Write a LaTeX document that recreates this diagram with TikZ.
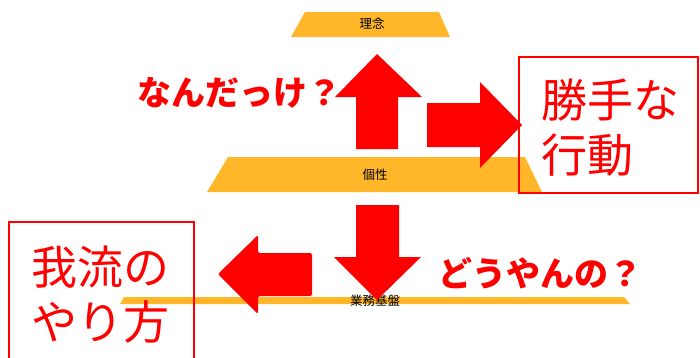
\documentclass[tikz,border=0pt]{standalone}
\usepackage{fontspec}
\newfontfamily\jp{Noto Sans CJK JP}
\definecolor{gold}{RGB}{255,182,40}
\definecolor{myred}{RGB}{255,0,0}
\tikzset{
  tier/.style={fill=gold},
  tierlabel/.style={font=\jp\fontsize{12.5}{14}\selectfont, text=black, inner sep=0pt},
  blockarrow/.style={fill=myred},
  remark/.style={font=\jp\bfseries\fontsize{34}{40}\selectfont, text=myred, inner sep=0pt},
  resultbox/.style={draw=myred, line width=2pt},
  resulttext/.style={font=\jp\fontsize{46}{55}\selectfont, text=myred, inner sep=0pt, align=left}
}
\begin{document}
\begin{tikzpicture}[x=1pt,y=-1pt]
\useasboundingbox (0,0) rectangle (700,357);
\clip (0,0) rectangle (700,357);
% tiers
\fill[tier] (305,12) -- (439,12) -- (450,37) -- (291,37) -- cycle;
\node[tierlabel] (rinen) at (372,24) {理念};
\fill[tier] (228,157) -- (525,157) -- (542,192) -- (207,192) -- cycle;
\node[tierlabel] (kosei) at (375,175) {個性};
\fill[tier] (124,297) -- (624,297) -- (630,304) -- (120,304) -- cycle;
\node[tierlabel] (kiban) at (375,301) {業務基盤};
% arrows
\fill[blockarrow] (377,54) -- (422,97) -- (398,97) -- (398,149) -- (356,149) -- (356,97) -- (335,97) -- cycle;
\fill[blockarrow] (522,125) -- (480,168) -- (480,147) -- (427,147) -- (427,103) -- (480,103) -- (480,82) -- cycle;
\fill[blockarrow] (377,300) -- (334,257) -- (356,257) -- (356,205) -- (399,205) -- (399,257) -- (421,257) -- cycle;
\fill[blockarrow, rounded corners=2pt] (218,274) -- (258,235) -- (258,253) -- (312,253) -- (312,296) -- (258,296) -- (258,314) -- cycle;
% remarks
\node[remark] (nandakke) at (239,93) {なんだっけ？};
\node[remark] (douyan) at (540,273) {どうやんの？};
% result boxes
\draw[resultbox] (519,57) rectangle (698,193);
\node[resulttext, anchor=west] (katte) at (541,128) {勝手な\\行動};
\draw[resultbox] (9,222) rectangle (194,362);
\node[resulttext, anchor=west] (garyu) at (31,295) {我流の\\やり方};
\end{tikzpicture}
\end{document}
